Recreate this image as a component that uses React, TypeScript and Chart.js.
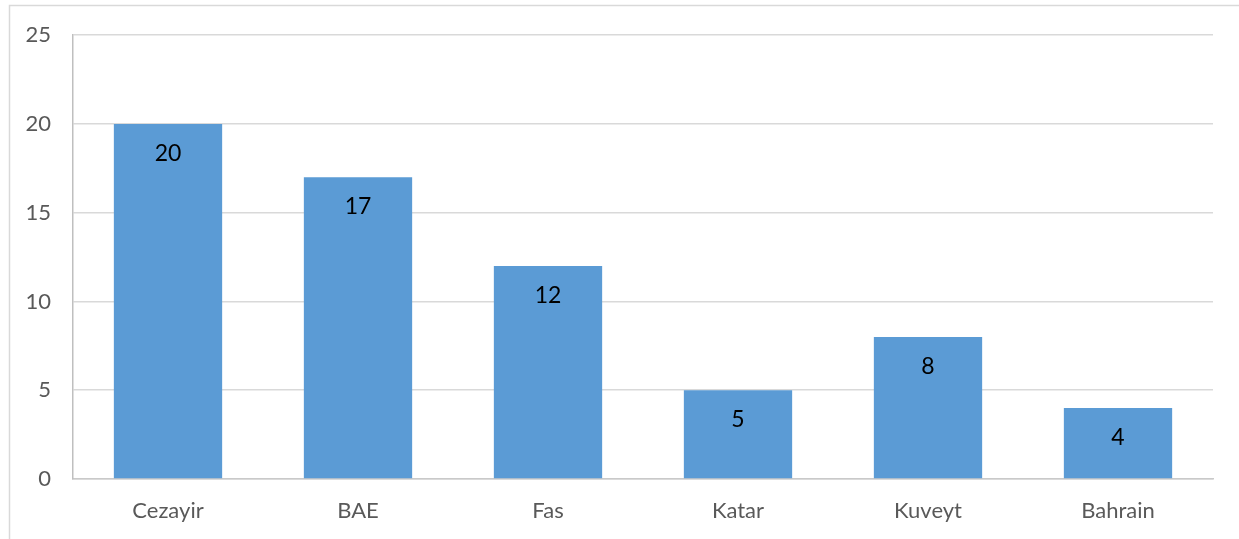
import React, { useEffect, useRef } from "react";
import { Chart, registerables } from "chart.js";

Chart.register(...registerables);

const categories = ["Cezayir", "BAE", "Fas", "Katar", "Kuveyt", "Bahrain"];
const values = [20, 17, 12, 5, 8, 4];
const yTicks = [0, 5, 10, 15, 20, 25];

const FONT = "Lato, 'Open Sans', sans-serif";

const borderPlugin = {
  id: "outerBorder",
  beforeDraw(chart: any) {
    const ctx = chart.ctx;
    ctx.save();
    ctx.strokeStyle = "#d9d9d9";
    ctx.lineWidth = 1.5;
    ctx.strokeRect(9.5, 5.5, 1300, 600);
    ctx.restore();
  },
};

const labelPlugin = {
  id: "barLabels",
  afterDatasetsDraw(chart: any) {
    const ctx = chart.ctx;
    const meta = chart.getDatasetMeta(0);
    ctx.save();
    ctx.fillStyle = "#000000";
    ctx.font = `23px ${FONT}`;
    ctx.textAlign = "center";
    ctx.textBaseline = "middle";
    meta.data.forEach((bar: any, i: number) => {
      ctx.fillText(String(values[i]), bar.x, bar.y + 29.5);
    });
    ctx.restore();
  },
};

export default function App() {
  const ref = useRef<HTMLCanvasElement | null>(null);
  useEffect(() => {
    if (!ref.current) return;
    const chart = new Chart(ref.current, {
      type: "bar",
      data: {
        labels: categories,
        datasets: [
          {
            data: values,
            backgroundColor: "#5b9bd5",
            borderWidth: 0,
            categoryPercentage: 1,
            barPercentage: 0.57,
          },
        ],
      },
      options: {
        responsive: false,
        animation: false,
        layout: { padding: { top: 35, right: 26, left: 0, bottom: 0 } },
        plugins: { legend: { display: false }, tooltip: { enabled: false } },
        scales: {
          x: {
            grid: { display: false, drawTicks: false },
            border: { display: true, color: "#c9c9c9", width: 1.5 },
            ticks: { color: "#595959", font: { family: FONT, size: 22 }, padding: 19 },
            afterFit: (s: any) => {
              s.height = 60;
            },
          },
          y: {
            min: 0,
            max: 25,
            afterBuildTicks: (s: any) => {
              s.ticks = yTicks.map((v) => ({ value: v }));
            },
            grid: { color: "#d9d9d9", lineWidth: 1.5, drawTicks: false },
            border: { display: true, color: "#bfbfbf", width: 1.5 },
            ticks: { color: "#595959", font: { family: FONT, size: 22 }, padding: 22 },
            afterFit: (s: any) => {
              s.width = 73;
            },
          },
        },
      },
      plugins: [borderPlugin, labelPlugin],
    });
    return () => chart.destroy();
  }, []);
  return (
    <div style={{ position: "fixed", left: 0, top: 0, width: 1239, height: 539, background: "#fff" }}>
      <canvas ref={ref} width={1239} height={539} style={{ width: 1239, height: 539 }} />
    </div>
  );
}
